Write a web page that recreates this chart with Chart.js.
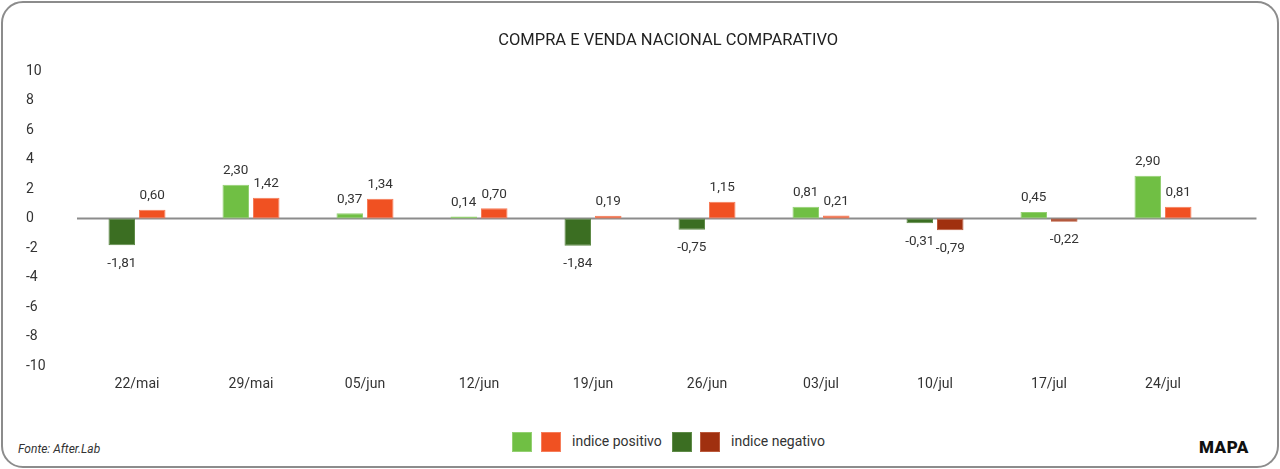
<!DOCTYPE html>
<html>
<head>
<meta charset="utf-8">
<script src="https://cdn.jsdelivr.net/npm/chart.js@4"></script>
<style>
    html, body { margin: 0; padding: 0; background: #fff; }
    body { width: 1280px; height: 469px; position: relative; overflow: hidden; font-family: Roboto, "Noto Sans", sans-serif; color: #333; }
    #frame { position: absolute; left: 1px; top: 1px; width: 1274px; height: 463px; border: 2px solid #8c8c8c; border-radius: 22px; }
    #wrap { position: absolute; left: 0; top: 0; width: 1280px; height: 405px; }
    .leg { position: absolute; top: 432px; width: 20px; height: 20px; box-sizing: border-box; }
    .legtxt { position: absolute; top: 433px; font-size: 14px; color: #333; }
    #fonte { position: absolute; left: 18px; top: 442px; font-size: 12px; font-style: italic; color: #333; }
    #mapa { position: absolute; left: 1199px; top: 437px; font-size: 17px; font-weight: 900; color: #111; letter-spacing: 0.5px; }
</style>
</head>
<body>
<div id="frame"></div>
<div id="wrap"><canvas id="comparativoChart"></canvas></div>
<div class="leg" style="left:512px;background:#70bf44;border:1px solid #94d072;"></div>
<div class="leg" style="left:541px;background:#f05122;border:1px solid #f67d5a;"></div>
<div class="legtxt" style="left:572px;">indice positivo</div>
<div class="leg" style="left:672px;background:#3b6e22;border:1px solid #5f8b48;"></div>
<div class="leg" style="left:700px;background:#a0300f;border:1px solid #bb5a3c;"></div>
<div class="legtxt" style="left:731px;">indice negativo</div>
<div id="fonte">Fonte: After.Lab</div>
<div id="mapa">MAPA</div>
<script>
// Semanas
const semanas = ['22/mai', '29/mai', '05/jun', '12/jun', '19/jun', '26/jun', '03/jul', '10/jul', '17/jul', '24/jul'];

// Valores por serie
const compra = [-1.81, 2.30, 0.37, 0.14, -1.84, -0.75, 0.81, -0.31, 0.45, 2.90];
const venda = [0.60, 1.42, 1.34, 0.70, 0.19, 1.15, 0.21, -0.79, -0.22, 0.81];

// Ticks do eixo y
const yTicks = [-10, -8, -6, -4, -2, 0, 2, 4, 6, 8, 10];

// Function to pick color by sign
function corPorSinal(pos, neg) {
    return function (ctx) {
        const v = ctx.raw;
        return v < 0 ? neg : pos;
    };
}

// Function to format number with comma
function formatar(v) {
    return v.toFixed(2).replace('.', ',');
}

// Function to get where the zero line ends (runs a bit past the last week)
function fimLinhaZero(chart) {
    const area = chart.chartArea;
    const largura = (area.right - area.left) / semanas.length;
    return area.right + largura * 0.32;
}

// Plugin to draw the zero line
const linhaZeroPlugin = {
    id: 'linhaZero',
    beforeDatasetsDraw(chart) {
        const ctx = chart.ctx;
        const y0 = chart.scales.y.getPixelForValue(0);
        ctx.save();
        ctx.strokeStyle = '#8c8c8c';
        ctx.lineWidth = 2;
        ctx.beginPath();
        ctx.moveTo(chart.chartArea.left - 3, y0);
        ctx.lineTo(fimLinhaZero(chart), y0);
        ctx.stroke();
        ctx.restore();
    }
};

// Plugin to draw value labels above/below bars
const rotulosPlugin = {
    id: 'rotulos',
    afterDatasetsDraw(chart) {
        const ctx = chart.ctx;
        ctx.save();
        ctx.font = '13.5px Roboto, "Noto Sans", sans-serif';
        ctx.fillStyle = '#333';
        ctx.textAlign = 'center';
        ctx.textBaseline = 'middle';
        chart.data.datasets.forEach((ds, i) => {
            const meta = chart.getDatasetMeta(i);
            meta.data.forEach((bar, j) => {
                const v = ds.data[j];
                const y = v < 0 ? bar.y + 18 : bar.y - 14;
                ctx.fillText(formatar(v), bar.x, y);
            });
        });
        ctx.restore();
    }
};

// Plugin to draw title centered over the plot
const tituloPlugin = {
    id: 'titulo',
    afterDraw(chart) {
        const ctx = chart.ctx;
        const area = chart.chartArea;
        ctx.save();
        ctx.font = '16.5px Roboto, "Noto Sans", sans-serif';
        ctx.fillStyle = '#222';
        ctx.textAlign = 'center';
        ctx.textBaseline = 'middle';
        ctx.fillText('COMPRA E VENDA NACIONAL COMPARATIVO', (area.left + fimLinhaZero(chart)) / 2, 41);
        ctx.restore();
    }
};

function renderChart() {
    const ctx = document.getElementById('comparativoChart').getContext('2d');

    new Chart(ctx, {
        type: 'bar',
        data: {
            labels: semanas,
            datasets: [
                {
                    label: 'Compra',
                    data: compra,
                    backgroundColor: corPorSinal('#70bf44', '#3b6e22'),
                    borderColor: corPorSinal('#94d072', '#5f8b48'),
                    borderWidth: 1,
                    borderSkipped: false
                },
                {
                    label: 'Venda',
                    data: venda,
                    backgroundColor: corPorSinal('#f05122', '#a0300f'),
                    borderColor: corPorSinal('#f67d5a', '#bb5a3c'),
                    borderWidth: 1,
                    borderSkipped: false
                }
            ]
        },
        options: {
            responsive: true,
            maintainAspectRatio: false,
            animation: false,
            categoryPercentage: 0.535,
            barPercentage: 0.87,
            layout: { padding: { top: 71, left: 26, right: 60, bottom: 10 } },
            plugins: {
                legend: { display: false },
                tooltip: { enabled: false }
            },
            scales: {
                x: {
                    grid: { display: false },
                    border: { display: false },
                    ticks: {
                        color: '#333',
                        font: { size: 14, family: 'Roboto' },
                        padding: 2
                    }
                },
                y: {
                    min: -10,
                    max: 10,
                    afterBuildTicks(scale) {
                        scale.ticks = yTicks.map(v => ({ value: v }));
                    },
                    afterFit(scale) {
                        scale.width = 54;
                    },
                    border: { display: false },
                    grid: { display: false },
                    ticks: {
                        color: '#333',
                        crossAlign: 'far',
                        font: { size: 14, family: 'Roboto' },
                        padding: 8
                    }
                }
            }
        },
        plugins: [linhaZeroPlugin, rotulosPlugin, tituloPlugin]
    });
}

renderChart();
</script>
</body>
</html>
